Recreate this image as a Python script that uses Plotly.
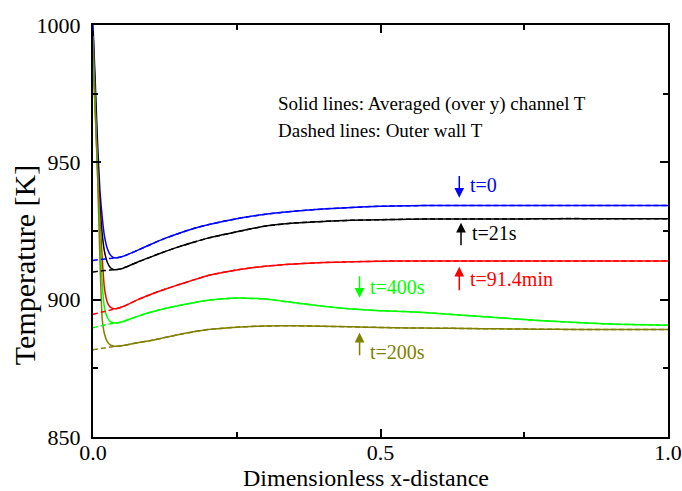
import plotly.graph_objects as go

# Dimensionless axial position along the channel
x_pos = [0, 0.004, 0.008, 0.012, 0.016, 0.02, 0.025, 0.03, 0.035, 0.04, 0.05, 0.06,
         0.08, 0.1, 0.125, 0.15, 0.175, 0.2, 0.25, 0.3, 0.35, 0.4, 0.45, 0.5, 0.55,
         0.6, 0.65, 0.7, 0.75, 0.8, 0.9, 1.0]

# Channel temperature averaged over y [K]
T_chan_t0 = [1000, 979, 957, 940, 930, 923, 918.5, 916.3, 915.4, 915.2, 915.6, 916.4,
             918.2, 920.1, 922.3, 924.2, 925.9, 927.3, 929.5, 931.1, 932.2, 933.0, 933.6,
             934.0, 934.2, 934.3, 934.3, 934.3, 934.3, 934.3, 934.3, 934.3]
T_chan_t21 = [998, 975, 952, 935, 924, 917.5, 913.5, 911.7, 911.0, 910.9, 911.3, 912.1,
              913.9, 915.5, 917.5, 919.3, 920.9, 922.4, 924.7, 926.8, 927.9, 928.5, 928.9,
              929.1, 929.3, 929.4, 929.4, 929.4, 929.4, 929.5, 929.5, 929.5]
T_chan_t914 = [987, 968, 948, 930, 915, 904, 899, 897.3, 896.8, 896.7, 897.3, 898.2,
               900.2, 901.9, 903.8, 905.5, 907.2, 908.8, 910.8, 912.2, 913.0, 913.5, 913.8,
               914.0, 914.1, 914.1, 914.1, 914.1, 914.1, 914.1, 914.1, 914.1]
T_chan_t400 = [990, 968, 945, 925, 906, 897, 893.5, 892.0, 891.6, 891.5, 891.9, 892.6,
               894.1, 895.4, 896.8, 897.9, 898.9, 899.8, 900.6, 900.2, 898.9, 897.6, 896.6,
               896.0, 895.6, 895.0, 894.2, 893.5, 892.8, 892.1, 891.1, 890.7]
T_chan_t200 = [996, 970, 945, 915, 893, 887.5, 884.6, 883.5, 883.1, 883.0, 883.2, 883.6,
               884.4, 885.1, 886.2, 887.3, 888.3, 889.1, 890.0, 890.4, 890.5, 890.3, 890.1,
               889.9, 889.7, 889.6, 889.5, 889.4, 889.3, 889.2, 889.1, 889.1]

# Outer wall temperature [K]
T_wall_t0 = [914.3, 914.4, 914.5, 914.6, 914.7, 914.8, 914.9, 915.0, 915.1, 915.2, 915.6, 916.4,
             918.2, 920.1, 922.3, 924.2, 925.9, 927.3, 929.5, 931.1, 932.2, 933.0, 933.6,
             934.0, 934.2, 934.3, 934.3, 934.3, 934.3, 934.3, 934.3, 934.3]
T_wall_t21 = [910.1, 910.2, 910.3, 910.4, 910.5, 910.6, 910.7, 910.8, 910.9, 910.9, 911.3, 912.1,
              913.9, 915.5, 917.5, 919.3, 920.9, 922.4, 924.7, 926.8, 927.9, 928.5, 928.9,
              929.1, 929.3, 929.4, 929.4, 929.4, 929.4, 929.5, 929.5, 929.5]
T_wall_t914 = [894.7, 894.9, 895.1, 895.3, 895.5, 895.7, 895.9, 896.2, 896.5, 896.7, 897.3, 898.2,
               900.2, 901.9, 903.8, 905.5, 907.2, 908.8, 910.8, 912.2, 913.0, 913.5, 913.8,
               914.0, 914.1, 914.1, 914.1, 914.1, 914.1, 914.1, 914.1, 914.1]
T_wall_t400 = [889.8, 890.0, 890.2, 890.4, 890.6, 890.8, 891.0, 891.2, 891.4, 891.5, 891.9, 892.6,
               894.1, 895.4, 896.8, 897.9, 898.9, 899.8, 900.6, 900.2, 898.9, 897.6, 896.6,
               896.0, 895.6, 895.0, 894.2, 893.5, 892.8, 892.1, 891.1, 890.7]
T_wall_t200 = [881.8, 881.9, 882.0, 882.1, 882.3, 882.4, 882.6, 882.8, 882.9, 883.0, 883.2, 883.6,
               884.4, 885.1, 886.2, 887.3, 888.3, 889.1, 890.0, 890.4, 890.5, 890.3, 890.1,
               889.9, 889.7, 889.6, 889.5, 889.4, 889.3, 889.2, 889.1, 889.1]

series = [
    ("t=0", "#0000FF", T_chan_t0, T_wall_t0),
    ("t=21s", "#000000", T_chan_t21, T_wall_t21),
    ("t=91.4min", "#FF0000", T_chan_t914, T_wall_t914),
    ("t=400s", "#00FF00", T_chan_t400, T_wall_t400),
    ("t=200s", "#808000", T_chan_t200, T_wall_t200),
]

# Time labels: (text, colour, arrow x, arrow tail T, arrow tip T, text x, text T)
labels = [
    ("t=0", "#0000FF", 0.637, 945.6, 937.1, 0.652, 941.9),
    ("t=21s", "#000000", 0.640, 919.3, 928.0, 0.656, 924.4),
    ("t=91.4min", "#FF0000", 0.637, 902.9, 912.0, 0.652, 907.6),
    ("t=400s", "#00FF00", 0.4636, 909.1, 900.7, 0.479, 904.7),
    ("t=200s", "#808000", 0.4636, 879.2, 888.0, 0.479, 881.1),
]

x_ticks = [0.0, 0.5, 1.0]
x_tick_text = ["0.0", "0.5", "1.0"]
y_ticks = [850, 900, 950, 1000]

FONT = "Liberation Serif, Times New Roman, serif"

fig = go.Figure()
for name, color, chan, wall in series:
    fig.add_trace(go.Scatter(x=x_pos, y=chan, mode="lines", name=name,
                             line=dict(color=color, width=1.5, shape="spline", smoothing=0.5),
                             showlegend=False))
for name, color, chan, wall in series:
    fig.add_trace(go.Scatter(x=x_pos, y=wall, mode="lines", name=name + " wall",
                             line=dict(color=color, width=1.5, dash="5px,3px",
                                       shape="spline", smoothing=0.5),
                             showlegend=False))

for text, color, ax_, tail, tip, tx, ty in labels:
    fig.add_annotation(x=ax_, y=tip, ax=ax_, ay=tail, xref="x", yref="y",
                       axref="x", ayref="y", text="", showarrow=True,
                       arrowhead=2, arrowsize=1.3, arrowwidth=1.5, arrowcolor=color)
    fig.add_annotation(x=tx, y=ty, xref="x", yref="y", text=text, showarrow=False,
                       xanchor="left", yanchor="middle",
                       font=dict(family=FONT, size=20, color=color))

fig.add_annotation(x=0.319, y=971.4, xref="x", yref="y", xanchor="left", yanchor="middle",
                   text="Solid lines: Averaged (over y) channel T", showarrow=False,
                   font=dict(family=FONT, size=19, color="black"))
fig.add_annotation(x=0.319, y=961.6, xref="x", yref="y", xanchor="left", yanchor="middle",
                   text="Dashed lines: Outer wall T", showarrow=False,
                   font=dict(family=FONT, size=19, color="black"))

# Axis titles
fig.add_annotation(x=0.4748, y=-0.1, xref="paper", yref="paper", xanchor="center",
                   yanchor="middle", text="Dimensionless x-distance", showarrow=False,
                   font=dict(family=FONT, size=24, color="black"))
fig.add_annotation(x=-0.118, y=0.4175, xref="paper", yref="paper", xanchor="center",
                   yanchor="middle", text="Temperature [K]", textangle=-90, showarrow=False,
                   font=dict(family=FONT, size=30, color="black"))

axis_common = dict(showgrid=False, zeroline=False, showline=True, linecolor="black",
                   linewidth=2, mirror="allticks", ticks="inside", ticklen=8, tickwidth=1.5,
                   tickcolor="black", tickfont=dict(family=FONT, size=22, color="black"),
                   automargin=False)

fig.update_xaxes(range=[0, 1], tickvals=x_ticks, ticktext=x_tick_text,
                 minor=dict(ticks="inside", ticklen=5, tickwidth=1.5, tickcolor="black",
                            dtick=0.25, tick0=0),
                 ticklabelstandoff=-5, **axis_common)
fig.update_yaxes(range=[850, 1000], tickvals=y_ticks,
                 minor=dict(ticks="inside", ticklen=5, tickwidth=1.5, tickcolor="black",
                            dtick=25, tick0=850),
                 ticklabelstandoff=6, **axis_common)

fig.update_layout(width=682, height=491, margin=dict(l=93, r=14, t=25, b=54),
                  plot_bgcolor="white", paper_bgcolor="white", showlegend=False)

fig.write_html("out.html")
